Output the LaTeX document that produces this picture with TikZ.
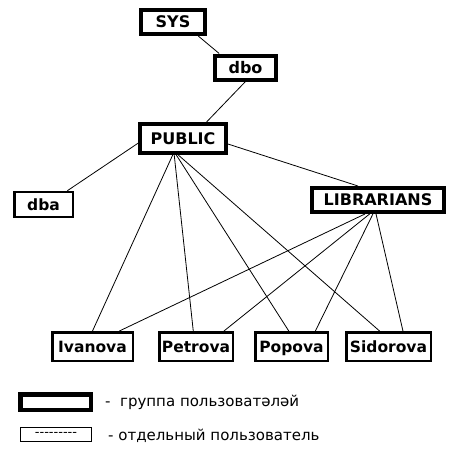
\documentclass[tikz,border=0pt]{standalone}
\usepackage{fontspec}
\setmainfont{DejaVu Sans}
\begin{document}
\begin{tikzpicture}[x=1pt, y=-1pt,
	groupBox/.style={rectangle, draw=black, line width=4pt, fill=white, minimum height=24pt, inner sep=0pt, text height=11.5pt, text depth=0pt, font=\bfseries\fontsize{16}{18}\selectfont},
	userBox/.style={rectangle, draw=black, line width=2.5pt, fill=white, minimum height=25pt, inner sep=0pt, text height=11.5pt, text depth=0pt, font=\bfseries\fontsize{15.5}{18}\selectfont},
	link/.style={line width=0.8pt},
	legendText/.style={anchor=west, inner sep=0pt, font=\fontsize{15}{17}\selectfont}]
\useasboundingbox (0,0) rectangle (476,461);

	\node[groupBox, minimum width=64pt](sys) at (173,22){SYS};
	\node[groupBox, minimum width=61pt](dbo) at (245.5,67.5){dbo};
	\node[groupBox, minimum width=86pt, minimum height=29pt](public) at (183,138.5){PUBLIC};
	\node[groupBox, minimum width=132pt](librarians) at (378,200){LIBRARIANS};
	\node[userBox, minimum width=58.5pt](dba) at (43.5,204.5){dba};

	\node[userBox, minimum width=80.5pt, minimum height=28.5pt](ivanova) at (92.5,346.5){Ivanova};
	\node[userBox, minimum width=73.5pt, minimum height=28.5pt](petrova) at (196,346.5){Petrova};
	\node[userBox, minimum width=72.5pt, minimum height=28.5pt](popova) at (291.5,346.5){Popova};
	\node[userBox, minimum width=84.5pt, minimum height=28.5pt](sidorova) at (388.5,346.5){Sidorova};

	\draw[link] (sys.-29) -- (dbo.152);
	\draw[link] (dbo.south) -- (public.35);
	\draw[link] (public.186) -- (dba.30);
	\draw[link] (public.-7) -- (librarians.145);

	\draw[link] (public.-122) -- (ivanova.north);
	\draw[link] (public.-118) -- (petrova.100);
	\draw[link] (public.-112) -- (popova.100);
	\draw[link] (public.-106) -- (sidorova.120);

	\draw[link] (librarians.-133) -- (ivanova.30);
	\draw[link] (librarians.-121) -- (petrova.29);
	\draw[link] (librarians.-110) -- (popova.33);
	\draw[link] (librarians.-98) -- (sidorova.47);

	\node[rectangle, draw=black, line width=4.5pt, minimum width=70.5pt, minimum height=15.5pt, inner sep=0pt](groupKey) at (55.5,402){};
	\node[rectangle, draw=black, line width=1.2pt, minimum width=71pt, minimum height=14pt, inner sep=0pt, font=\fontsize{13}{14}\selectfont](userKey) at (56,434.5){-{}-{}-{}-{}-{}-{}-{}-{}-};
	\node[legendText](groupKeyLabel) at (105,402){-\ \ группа пользоватәләй};
	\node[legendText](userKeyLabel) at (108,436){- отдельный пользователь};
\end{tikzpicture}
\end{document}
